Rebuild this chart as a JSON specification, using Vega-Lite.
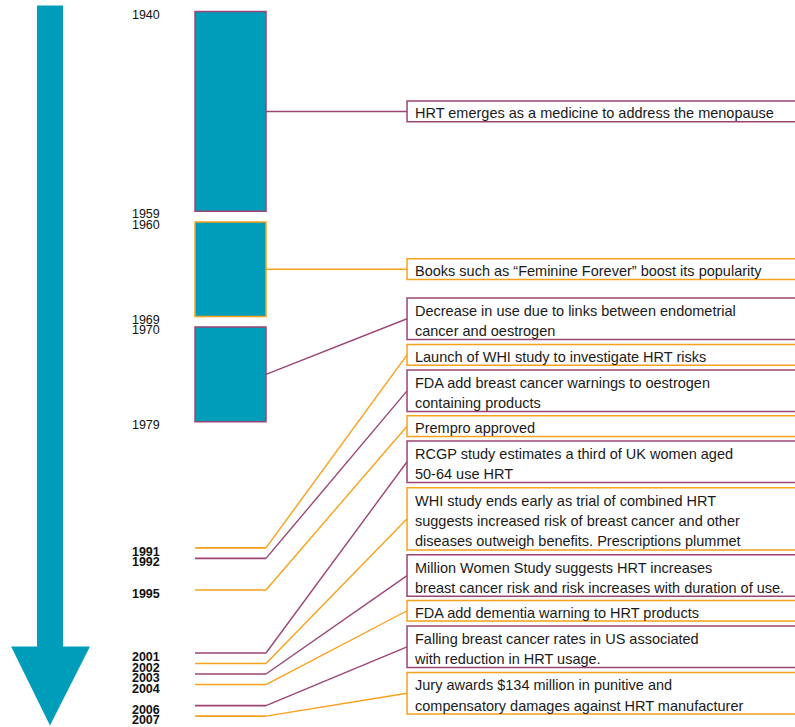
{
  "$schema": "https://vega.github.io/schema/vega-lite/v6.json",
  "width": 795,
  "height": 727,
  "autosize": {"type": "fit", "contains": "padding"},
  "padding": 0,
  "background": "white",
  "config": {"view": {"stroke": null}, "font": "Liberation Sans"},
  "datasets": {
    "timeline": [
      {"kind": "period", "from": 1940, "to": 1959, "tone": "purple", "lines": 1, "note_at": 1949.5, "note": "HRT emerges as a medicine to address the menopause"},
      {"kind": "period", "from": 1960, "to": 1969, "tone": "orange", "lines": 1, "note_at": 1964.5, "note": "Books such as “Feminine Forever” boost its popularity"},
      {"kind": "period", "from": 1970, "to": 1979, "tone": "purple", "lines": 2, "note_at": 1969.21, "note": "Decrease in use due to links between endometrial\ncancer and oestrogen"},
      {"kind": "event", "from": 1991, "to": 1991, "tone": "orange", "lines": 1, "note_at": 1972.64, "note": "Launch of WHI study to investigate HRT risks"},
      {"kind": "event", "from": 1992, "to": 1992, "tone": "purple", "lines": 2, "note_at": 1976.07, "note": "FDA add breast cancer warnings to oestrogen\ncontaining products"},
      {"kind": "event", "from": 1995, "to": 1995, "tone": "orange", "lines": 1, "note_at": 1979.43, "note": "Prempro approved"},
      {"kind": "event", "from": 2001, "to": 2001, "tone": "purple", "lines": 2, "note_at": 1982.81, "note": "RCGP study estimates a third of UK women aged\n50-64 use HRT"},
      {"kind": "event", "from": 2002, "to": 2002, "tone": "orange", "lines": 3, "note_at": 1988.24, "note": "WHI study ends early as trial of combined HRT\nsuggests increased risk of breast cancer and other\ndiseases outweigh benefits.  Prescriptions plummet"},
      {"kind": "event", "from": 2003, "to": 2003, "tone": "purple", "lines": 2, "note_at": 1993.64, "note": "Million Women Study suggests HRT increases\nbreast cancer risk and risk increases with duration of use."},
      {"kind": "event", "from": 2004, "to": 2004, "tone": "orange", "lines": 1, "note_at": 1996.98, "note": "FDA add dementia warning to HRT products"},
      {"kind": "event", "from": 2006, "to": 2006, "tone": "purple", "lines": 2, "note_at": 2000.41, "note": "Falling breast cancer rates in US associated\nwith reduction in HRT usage."},
      {"kind": "event", "from": 2007, "to": 2007, "tone": "orange", "lines": 2, "note_at": 2004.82, "note": "Jury awards $134 million in punitive and\ncompensatory damages against HRT manufacturer"}
    ]
  },
  "data": {"name": "timeline"},
  "layer": [
    {
      "data": {"values": [{"shape": "arrow"}]},
      "mark": {"type": "point", "filled": true, "opacity": 1, "strokeWidth": 0, "color": "#009DBB",
        "shape": "M-0.0361,-1 L0.0361,-1 L0.0361,0.7806 L0.111,0.7806 L0,1 L-0.108,0.7806 L-0.0361,0.7806 Z",
        "size": 518400},
      "encoding": {
        "x": {"datum": 6.29, "type": "quantitative", "scale": {"domain": [0, 100], "nice": false, "zero": false, "padding": 0}, "axis": null},
        "y": {"datum": 1973.66, "type": "quantitative", "scale": {"domain": [1938.9, 2007.75], "reverse": true, "nice": false, "zero": false, "padding": 0}, "axis": null}
      }
    },
    {
      "transform": [{"filter": "datum.kind === 'period'"}],
      "mark": {"type": "bar", "orient": "vertical", "fill": "#009DBB", "strokeWidth": 1.5},
      "encoding": {
        "x": {"datum": 24.53, "type": "quantitative"},
        "x2": {"datum": 33.46},
        "y": {"field": "from", "type": "quantitative"},
        "y2": {"field": "to"},
        "stroke": {"field": "tone", "type": "nominal", "scale": {"domain": ["purple", "orange"], "range": ["#9B4575", "#F9A11B"]}, "legend": null}
      }
    },
    {
      "transform": [{"filter": "datum.kind === 'period'"}, {"fold": ["from", "to"], "as": ["end", "yr"]}],
      "mark": {"type": "text", "align": "left", "baseline": "top", "dy": -3, "fontSize": 12.5, "color": "#111111"},
      "encoding": {
        "x": {"datum": 16.6, "type": "quantitative"},
        "y": {"field": "yr", "type": "quantitative"},
        "text": {"field": "yr", "type": "quantitative", "format": "d"}
      }
    },
    {
      "transform": [{"filter": "datum.kind === 'event'"}],
      "mark": {"type": "rule", "strokeWidth": 1.6},
      "encoding": {
        "x": {"datum": 24.53, "type": "quantitative"},
        "x2": {"datum": 33.46},
        "y": {"field": "from", "type": "quantitative"},
        "stroke": {"field": "tone", "type": "nominal", "legend": null}
      }
    },
    {
      "transform": [{"filter": "datum.kind === 'event'"}],
      "mark": {"type": "text", "align": "left", "baseline": "top", "dy": -2, "fontSize": 12.5, "fontWeight": "bold", "color": "#111111"},
      "encoding": {
        "x": {"datum": 16.6, "type": "quantitative"},
        "y": {"field": "from", "type": "quantitative"},
        "text": {"field": "from", "type": "quantitative", "format": "d"}
      }
    },
    {
      "transform": [
        {"fold": ["from", "to"], "as": ["end", "yr"]},
        {"aggregate": [
          {"op": "mean", "field": "yr", "as": "anchor"},
          {"op": "max", "field": "note_at", "as": "note_at"}
        ], "groupby": ["note", "tone"]}
      ],
      "mark": {"type": "rule", "strokeWidth": 1.4},
      "encoding": {
        "x": {"datum": 33.46, "type": "quantitative"},
        "x2": {"datum": 51.2},
        "y": {"field": "anchor", "type": "quantitative"},
        "y2": {"field": "note_at"},
        "stroke": {"field": "tone", "type": "nominal", "legend": null}
      }
    },
    {
      "mark": {"type": "bar", "orient": "horizontal", "fill": "white", "strokeWidth": 1.5, "clip": true},
      "encoding": {
        "x": {"datum": 51.2, "type": "quantitative"},
        "x2": {"datum": 102},
        "y": {"field": "note_at", "type": "quantitative"},
        "size": {"field": "lines", "type": "quantitative", "scale": {"domain": [1, 3], "range": [20.7, 62.3], "zero": false}, "legend": null},
        "stroke": {"field": "tone", "type": "nominal", "legend": null}
      }
    },
    {
      "transform": [{"filter": "datum.lines === 1"}],
      "mark": {"type": "text", "align": "left", "baseline": "middle", "dy": 3, "fontSize": 14.5, "lineBreak": "\n", "lineHeight": 20.5, "color": "#1a1a1a"},
      "encoding": {
        "x": {"datum": 52.2, "type": "quantitative"},
        "y": {"field": "note_at", "type": "quantitative"},
        "text": {"field": "note", "type": "nominal"}
      }
    },
    {
      "transform": [{"filter": "datum.lines === 2"}],
      "mark": {"type": "text", "align": "left", "baseline": "middle", "dy": -7, "fontSize": 14.5, "lineBreak": "\n", "lineHeight": 20.5, "color": "#1a1a1a"},
      "encoding": {
        "x": {"datum": 52.2, "type": "quantitative"},
        "y": {"field": "note_at", "type": "quantitative"},
        "text": {"field": "note", "type": "nominal"}
      }
    },
    {
      "transform": [{"filter": "datum.lines === 3"}],
      "mark": {"type": "text", "align": "left", "baseline": "middle", "dy": -17, "fontSize": 14.5, "lineBreak": "\n", "lineHeight": 20.2, "color": "#1a1a1a"},
      "encoding": {
        "x": {"datum": 52.2, "type": "quantitative"},
        "y": {"field": "note_at", "type": "quantitative"},
        "text": {"field": "note", "type": "nominal"}
      }
    }
  ]
}
